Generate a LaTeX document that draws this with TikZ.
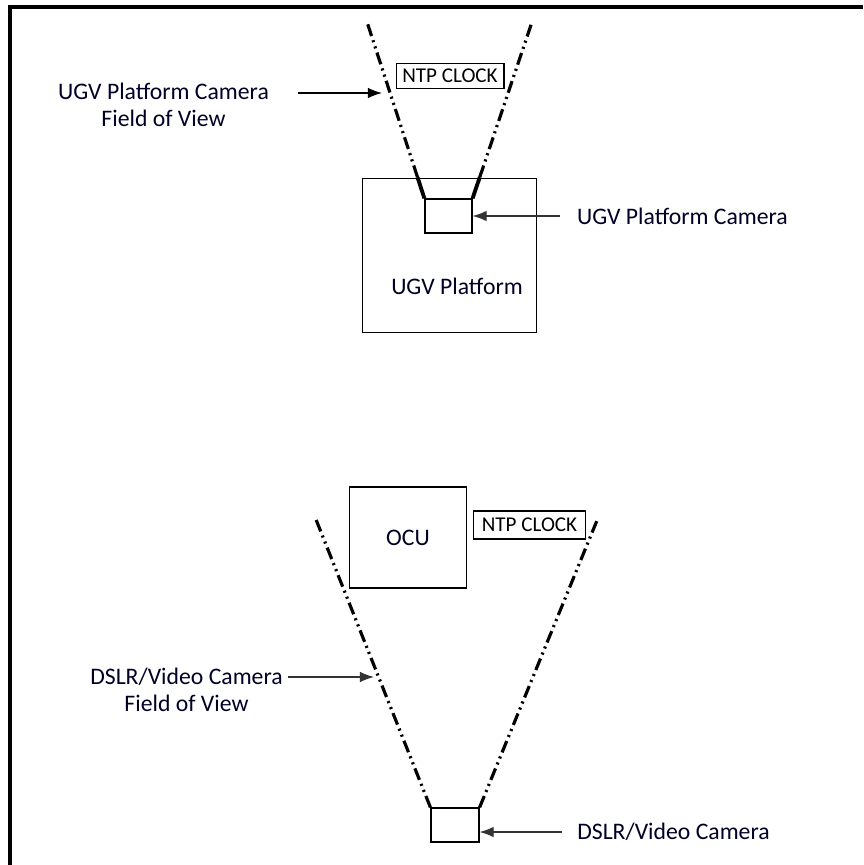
\documentclass[tikz,border=0pt]{standalone}
\usepackage{fontspec}
\setmainfont{Carlito}
\usepackage{xcolor}
\usepackage{tikz}
\usetikzlibrary{
  positioning,
  calc,
  arrows.meta
}

\begin{document}
\begin{tikzpicture}[x=0.02cm,y=-0.02cm,
  box/.style={draw,line width=0.8pt,inner sep=0pt},
  fovline/.style={line width=1.8pt,dash pattern=on 7pt off 2.5pt on 1.2pt off 2.5pt on 1.2pt off 2.5pt},
  fovsolid/.style={line width=2.2pt},
  pointer/.style={-{Latex[length=8pt,width=6pt]},line width=0.7pt,black!80},
  lab/.style={font=\fontsize{13.5}{15.5}\selectfont,align=center,text=black!85!blue}
  ]
  \useasboundingbox (0,0) rectangle (863,865);

  % 枠線
  \draw [line width=2.3pt] (10,865)--(10,7)--(863,7);

  % UGV
  \node [box,minimum width=175*0.567pt,minimum height=155*0.567pt] (platform) at (449.5,255.5) {};
  \node [box,minimum width=47*0.567pt,minimum height=34*0.567pt] (cam) at (448.5,216) {};
  \node [lab] (platlab) at (457,286) {UGV Platform};
  \node [box,minimum width=108*0.567pt,minimum height=25*0.567pt,font=\fontsize{12}{13}\selectfont] (ntptop) at (450,76) {NTP CLOCK};

  % UGV カメラの視野
  \coordinate (fovL) at (367,22);
  \coordinate (fovR) at (532,22);
  \draw [fovsolid] (cam.north west)--($(cam.north west)!0.12!(fovL)$);
  \draw [fovsolid] (cam.north east)--($(cam.north east)!0.12!(fovR)$);
  \draw [fovline] ($(cam.north west)!0.12!(fovL)$)--(fovL);
  \draw [fovline] ($(cam.north east)!0.12!(fovR)$)--(fovR);

  % UGV のラベル
  \node [lab] (fovlabtop) at (163.5,105) {UGV Platform Camera\\Field of View};
  \coordinate (fovtail) at (298,93);
  \coordinate (fovtip) at (382,93);
  \draw [pointer,black] (fovtail)--(fovtip);
  \node [lab,anchor=west,inner xsep=9.5pt] (camlab) at (560,216) {UGV Platform Camera};
  \draw [pointer] (camlab.west)--(camlab.west -| cam.east);

  % OCU
  \node [box,minimum width=118*0.567pt,minimum height=101*0.567pt,lab] (ocu) at (408,537.5) {OCU};
  \node [box,minimum width=113*0.567pt,minimum height=28*0.567pt,font=\fontsize{12}{13}\selectfont] (ntpbot) at (529.5,525) {NTP CLOCK};

  % DSLR カメラと視野
  \node [box,minimum width=48*0.567pt,minimum height=34*0.567pt] (dslr) at (455,825) {};
  \coordinate (dfovL) at (315,517);
  \coordinate (dfovR) at (598,518);
  \draw [fovline] (dslr.north west)--(dfovL);
  \draw [fovline] (dslr.north east)--(dfovR);

  % DSLR のラベル
  \node [lab] (fovlabbot) at (186.5,690) {DSLR/Video Camera\\Field of View};
  \coordinate (dfovtail) at (288,677);
  \coordinate (dfovtip) at (374,677);
  \draw [pointer] (dfovtail)--(dfovtip);
  \node [lab,anchor=west,inner xsep=8.5pt] (dslrlab) at (562,832) {DSLR/Video Camera};
  \draw [pointer] (dslrlab.west)--(dslrlab.west -| dslr.east);
\end{tikzpicture}
\end{document}
